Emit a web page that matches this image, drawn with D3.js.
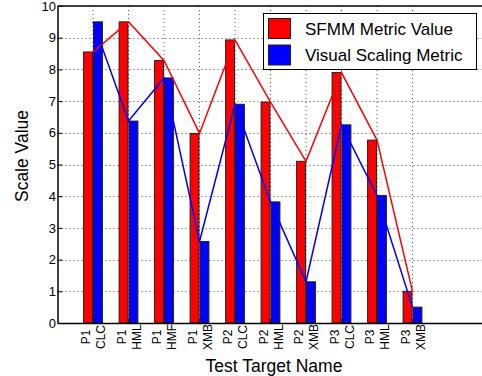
<!DOCTYPE html>
<html>
<head>
<meta charset="utf-8">
<script src="https://cdn.jsdelivr.net/npm/d3@7"></script>
<style>
    body { margin: 0; background: #fff; }
    text { font-family: "Liberation Sans", Arial, sans-serif; fill: #000; }
</style>
</head>
<body>
<div id="chart"></div>
<script>
// Data
const targets = ["P1", "P1", "P1", "P1", "P2", "P2", "P2", "P3", "P3", "P3"];
const tests = ["CLC", "HML", "HMF", "XMB", "CLC", "HML", "XMB", "CLC", "HML", "XMB"];
const sfmmValues = [8.55, 9.5, 8.28, 5.98, 8.93, 6.97, 5.1, 7.9, 5.77, 1.0];
const visualValues = [9.5, 6.37, 7.73, 2.57, 6.9, 3.82, 1.3, 6.25, 4.02, 0.5];
const yTicks = [0, 1, 2, 3, 4, 5, 6, 7, 8, 9, 10];
const seriesNames = ["SFMM Metric Value", "Visual Scaling Metric"];
const seriesColors = ["#ff0000", "#0000ff"];

const width = 482, height = 376;
const plot = { left: 57.5, right: 483.5, top: 6, bottom: 323 };

const svg = d3.select("#chart")
    .append("svg")
    .attr("width", width)
    .attr("height", height);

const xScale = d3.scaleLinear().domain([0, 12]).range([plot.left, plot.right]);
const yScale = d3.scaleLinear().domain([0, 10]).range([plot.bottom, plot.top]);

const positions = d3.range(1, tests.length + 1);
const barWidth = 0.25;   // in x units
const barOffset = 0.14;

// dotted grid
const grid = svg.append("g")
    .attr("stroke", "#444")
    .attr("stroke-width", 1)
    .attr("stroke-dasharray", "1,3");

grid.selectAll(".hgrid")
    .data(yTicks.filter(d => d > 0 && d < 10))
    .enter().append("line")
    .attr("x1", plot.left).attr("x2", width)
    .attr("y1", d => Math.round(yScale(d)) + 0.5)
    .attr("y2", d => Math.round(yScale(d)) + 0.5);

grid.selectAll(".vgrid")
    .data(positions)
    .enter().append("line")
    .attr("x1", d => xScale(d)).attr("x2", d => xScale(d))
    .attr("y1", plot.top).attr("y2", plot.bottom);

// bars
const series = [sfmmValues, visualValues];
series.forEach((values, s) => {
    const off = s === 0 ? -barOffset : barOffset;
    svg.append("g").selectAll("rect")
        .data(values)
        .enter().append("rect")
        .attr("x", (d, i) => xScale(positions[i] + off - barWidth / 2))
        .attr("width", xScale(barWidth) - xScale(0))
        .attr("y", d => yScale(d))
        .attr("height", d => yScale(0) - yScale(d))
        .attr("fill", seriesColors[s])
        .attr("stroke", "#222")
        .attr("stroke-width", 1);
});

// lines through group centres
const line = d3.line()
    .x((d, i) => xScale(positions[i]))
    .y(d => yScale(d));

series.forEach((values, s) => {
    svg.append("path")
        .datum(values)
        .attr("d", line)
        .attr("fill", "none")
        .attr("stroke", seriesColors[s])
        .attr("stroke-width", 1.5);
});

// axes box
svg.append("line")
    .attr("x1", plot.left).attr("x2", width)
    .attr("y1", plot.top).attr("y2", plot.top)
    .attr("stroke", "#000").attr("stroke-width", 1.5);

const yAxis = d3.axisLeft(yScale)
    .tickValues(yTicks)
    .tickSizeInner(-5)
    .tickSizeOuter(0)
    .tickPadding(1.5);

svg.append("g")
    .attr("transform", `translate(${plot.left},0)`)
    .call(yAxis)
    .call(g => g.select(".domain").attr("stroke-width", 1.5))
    .call(g => g.selectAll("text")
        .style("font-family", "'Liberation Sans', Arial, sans-serif")
        .style("font-size", "13px"));

const xAxis = d3.axisBottom(xScale)
    .tickValues(positions)
    .tickSizeInner(-4)
    .tickSizeOuter(0)
    .tickFormat("");

svg.append("g")
    .attr("transform", `translate(0,${plot.bottom})`)
    .call(xAxis)
    .call(g => g.select(".domain").attr("stroke-width", 1.5));

// two-line rotated tick labels
const labelCenterY = 337;
const xLabels = svg.append("g").style("font-size", "12px");
positions.forEach((p, i) => {
    const cx = xScale(p);
    [[targets[i], -3], [tests[i], 12]].forEach(([t, dx]) => {
        xLabels.append("text")
            .attr("transform", `translate(${cx + dx},${labelCenterY}) rotate(-90)`)
            .attr("text-anchor", "middle")
            .text(t);
    });
});

// axis titles
svg.append("text")
    .attr("x", 274)
    .attr("y", 372)
    .attr("text-anchor", "middle")
    .style("font-size", "17.5px")
    .text("Test Target Name");

svg.append("text")
    .attr("transform", "translate(27.5,156) rotate(-90)")
    .attr("text-anchor", "middle")
    .style("font-size", "17.5px")
    .text("Scale Value");

// legend
const legend = svg.append("g");
legend.append("rect")
    .attr("x", 263.5).attr("y", 13.5)
    .attr("width", 213).attr("height", 56)
    .attr("fill", "#fff")
    .attr("stroke", "#000")
    .attr("stroke-width", 1);

seriesNames.forEach((name, i) => {
    legend.append("rect")
        .attr("x", 268.5).attr("y", 18.5 + i * 26.5)
        .attr("width", 22).attr("height", 20)
        .attr("fill", seriesColors[i])
        .attr("stroke", "#222");
    legend.append("text")
        .attr("x", 305).attr("y", 34.5 + i * 26.5)
        .style("font-size", "17px")
        .text(name);
});
</script>
</body>
</html>
